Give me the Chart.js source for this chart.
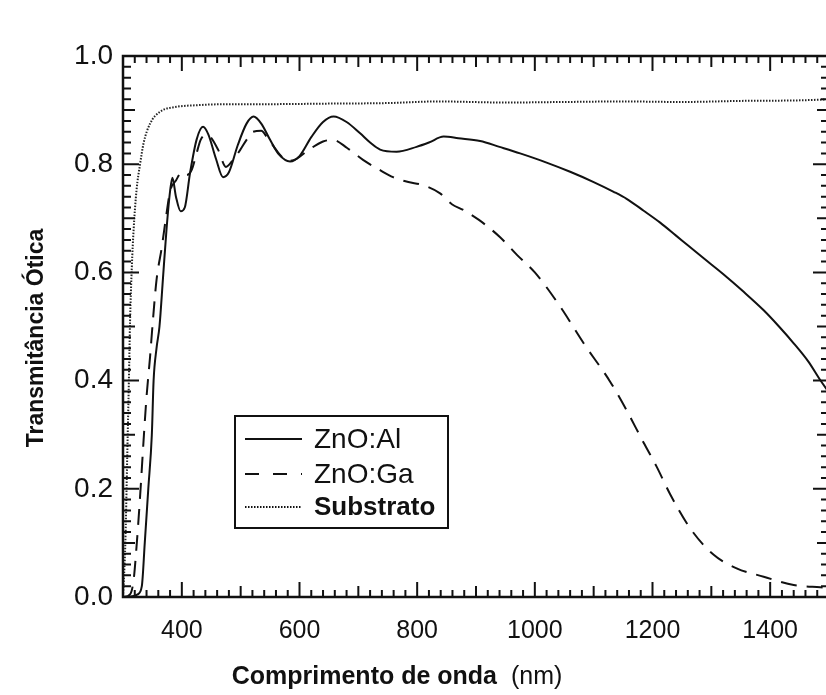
<!DOCTYPE html>
<html><head><meta charset="utf-8">
<script src="https://cdn.jsdelivr.net/npm/chart.js@4.4.0/dist/chart.umd.min.js"></script>
<style>
html,body{margin:0;padding:0;background:#fff;overflow:hidden;}
#wrap{position:relative;width:830px;height:695px;}
</style></head><body>
<div id="wrap"><canvas id="c" width="830" height="695"></canvas></div>
<script>
// ---- data ----
const xTickValues = [400, 600, 800, 1000, 1200, 1400];
const yTickValues = [0.0, 0.2, 0.4, 0.6, 0.8, 1.0];
const seriesNames = ['ZnO:Al', 'ZnO:Ga', 'Substrato'];
const xTitle = 'Comprimento de onda';
const xUnit = '(nm)';
const yTitle = 'Transmitância Ótica';

const alWavelength = [310, 325, 332, 337, 343, 349, 352, 357, 362, 368, 374, 380, 384, 390, 398, 405, 414, 425, 436, 445, 458, 470, 480, 495, 510, 522, 535, 550, 565, 584, 600, 620, 640, 658, 680, 703, 720, 737, 765, 799, 820, 845, 870, 907, 940, 975, 1020, 1060, 1100, 1134, 1156, 1185, 1213, 1240, 1260, 1287, 1320, 1354, 1389, 1415, 1440, 1465, 1485, 1500];
const alTransmittance = [0.0, 0.005, 0.02, 0.10, 0.20, 0.30, 0.40, 0.46, 0.50, 0.59, 0.68, 0.75, 0.775, 0.74, 0.713, 0.72, 0.784, 0.845, 0.869, 0.855, 0.81, 0.776, 0.785, 0.835, 0.875, 0.888, 0.875, 0.845, 0.818, 0.805, 0.815, 0.85, 0.878, 0.888, 0.878, 0.857, 0.84, 0.827, 0.823, 0.832, 0.84, 0.851, 0.848, 0.843, 0.832, 0.82, 0.803, 0.786, 0.767, 0.749, 0.736, 0.714, 0.692, 0.668, 0.65, 0.626, 0.597, 0.565, 0.53, 0.50, 0.469, 0.435, 0.401, 0.378];

const gaWavelength = [300, 312, 318, 323, 329, 335, 340, 346, 350, 357, 366, 374, 380, 390, 400, 408, 417, 425, 432, 440, 448, 462, 475, 487, 499, 510, 521, 535, 544, 556, 567, 580, 595, 615, 640, 657, 681, 708, 737, 759, 785, 808, 839, 859, 879, 905, 941, 970, 1000, 1043, 1083, 1128, 1156, 1185, 1207, 1230, 1264, 1304, 1343, 1389, 1440, 1485, 1500];
const gaTransmittance = [0.0, 0.005, 0.031, 0.093, 0.185, 0.29, 0.37, 0.444, 0.50, 0.586, 0.647, 0.709, 0.75, 0.77, 0.785, 0.78, 0.79, 0.82, 0.845, 0.854, 0.851, 0.826, 0.795, 0.808, 0.826, 0.845, 0.86, 0.862, 0.851, 0.833, 0.817, 0.806, 0.81, 0.826, 0.842, 0.845, 0.83, 0.808, 0.789, 0.776, 0.767, 0.762, 0.746, 0.726, 0.715, 0.697, 0.665, 0.632, 0.60, 0.537, 0.469, 0.398, 0.345, 0.285, 0.241, 0.19, 0.127, 0.078, 0.053, 0.0375, 0.022, 0.018, 0.017];

const subWavelength = [300, 304, 307, 310, 312, 315, 318, 323, 329, 335, 346, 363, 391, 425, 476, 550, 650, 750, 835, 950, 1050, 1150, 1250, 1350, 1450, 1500];
const subTransmittance = [0.0, 0.10, 0.25, 0.40, 0.51, 0.61, 0.678, 0.752, 0.80, 0.839, 0.875, 0.897, 0.906, 0.909, 0.911, 0.911, 0.912, 0.913, 0.916, 0.914, 0.915, 0.916, 0.915, 0.917, 0.918, 0.92];

// ---- chart ----
const FONT = '"Liberation Sans", Arial, Helvetica, sans-serif';
const INK = '#111';
const pairs = (xs, ys) => xs.map((x, i) => ({ x: x, y: ys[i] }));

const frameTicks = {
  id: 'frameTicks',
  afterDatasetsDraw(chart) {
    const { ctx, chartArea: a, scales: { x, y } } = chart;
    ctx.save();
    ctx.strokeStyle = INK;
    ctx.lineWidth = 2;
    for (let v = 300; v <= 1500; v += 20) {
      const px = x.getPixelForValue(v);
      const len = v % 200 === 0 ? 15 : (v % 100 === 0 ? 11 : 7);
      ctx.beginPath();
      ctx.moveTo(px, a.bottom); ctx.lineTo(px, a.bottom - len);
      ctx.moveTo(px, a.top); ctx.lineTo(px, a.top + len);
      ctx.stroke();
    }
    for (let i = 0; i <= 50; i++) {
      const py = y.getPixelForValue(i * 0.02);
      const len = i % 10 === 0 ? 16 : (i % 5 === 0 ? 12 : 8);
      ctx.beginPath();
      ctx.moveTo(a.left, py); ctx.lineTo(a.left + len, py);
      ctx.moveTo(a.right, py); ctx.lineTo(a.right - len, py);
      ctx.stroke();
    }
    ctx.lineWidth = 2.5;
    ctx.strokeRect(a.left, a.top, a.right - a.left, a.bottom - a.top);
    ctx.restore();
  }
};

const boxLegend = {
  id: 'boxLegend',
  afterDraw(chart) {
    const { ctx, chartArea: a } = chart;
    const left = a.left + 112, top = a.top + 360, w = 213, h = 112;
    ctx.save();
    ctx.fillStyle = '#fff';
    ctx.fillRect(left, top, w, h);
    ctx.strokeStyle = INK; ctx.lineWidth = 2;
    ctx.strokeRect(left, top, w, h);
    const rows = [23, 58, 91];
    chart.data.datasets.forEach((ds, i) => {
      const yy = top + rows[i];
      ctx.strokeStyle = INK;
      ctx.lineWidth = ds.borderWidth;
      ctx.setLineDash(i === 1 ? [14, 14] : (ds.borderDash || []));
      ctx.beginPath(); ctx.moveTo(left + 10, yy); ctx.lineTo(left + 67, yy); ctx.stroke();
      ctx.setLineDash([]);
      ctx.fillStyle = INK;
      ctx.textBaseline = 'middle';
      ctx.textAlign = 'left';
      ctx.font = (i === 2 ? 'bold 26px ' : '28px ') + FONT;
      ctx.fillText(ds.label, left + 79, yy + 1);
    });
    ctx.restore();
  }
};

const titlesPlugin = {
  id: 'titlesPlugin',
  afterDraw(chart) {
    const { ctx } = chart;
    ctx.save();
    ctx.fillStyle = INK;
    ctx.textBaseline = 'middle';
    ctx.textAlign = 'left';
    ctx.font = 'bold 25px ' + FONT;
    const w1 = ctx.measureText(xTitle + '  ').width;
    ctx.font = '25px ' + FONT;
    const w2 = ctx.measureText(xUnit).width;
    const sx = 397 - (w1 + w2) / 2;
    ctx.font = 'bold 25px ' + FONT;
    ctx.fillText(xTitle, sx, 677);
    ctx.font = '25px ' + FONT;
    ctx.fillText(xUnit, sx + w1, 677);
    // y title
    ctx.translate(37, 338);
    ctx.rotate(-Math.PI / 2);
    ctx.textAlign = 'center';
    ctx.font = 'bold 23px ' + FONT;
    ctx.fillText(yTitle, 0, 0);
    ctx.restore();
  }
};

const bgPlugin = {
  id: 'bg',
  beforeDraw(chart) {
    const { ctx, width, height } = chart;
    ctx.save(); ctx.fillStyle = '#fff'; ctx.fillRect(0, 0, width, height); ctx.restore();
  }
};

new Chart(document.getElementById('c'), {
  type: 'line',
  data: {
    datasets: [
      { label: seriesNames[0], data: pairs(alWavelength, alTransmittance), borderColor: INK, borderWidth: 2, pointRadius: 0, cubicInterpolationMode: 'monotone', fill: false },
      { label: seriesNames[1], data: pairs(gaWavelength, gaTransmittance), borderColor: INK, borderWidth: 2, borderDash: [16, 10], pointRadius: 0, cubicInterpolationMode: 'monotone', fill: false },
      { label: seriesNames[2], data: pairs(subWavelength, subTransmittance), borderColor: '#222', borderWidth: 2, borderDash: [1.5, 1.5], pointRadius: 0, cubicInterpolationMode: 'monotone', fill: false }
    ]
  },
  options: {
    responsive: false,
    animation: false,
    layout: { padding: { top: 56, right: 1, left: 0, bottom: 0 } },
    plugins: { legend: { display: false }, tooltip: { enabled: false } },
    scales: {
      x: {
        type: 'linear', min: 300, max: 1500,
        afterBuildTicks: s => { s.ticks = xTickValues.map(v => ({ value: v })); },
        afterFit: s => { s.height = 98; },
        grid: { display: false, drawTicks: false },
        border: { display: false },
        ticks: { color: INK, font: { family: FONT, size: 25 }, padding: 19, maxRotation: 0, autoSkip: false, callback: v => String(v) }
      },
      y: {
        type: 'linear', min: 0, max: 1,
        afterBuildTicks: s => { s.ticks = yTickValues.map(v => ({ value: v })); },
        afterFit: s => { s.width = 123; },
        grid: { display: false, drawTicks: false },
        border: { display: false },
        ticks: { color: INK, font: { family: FONT, size: 28 }, padding: 10, callback: v => Number(v).toFixed(1) }
      }
    }
  },
  plugins: [bgPlugin, frameTicks, boxLegend, titlesPlugin]
});
</script>
</body></html>
